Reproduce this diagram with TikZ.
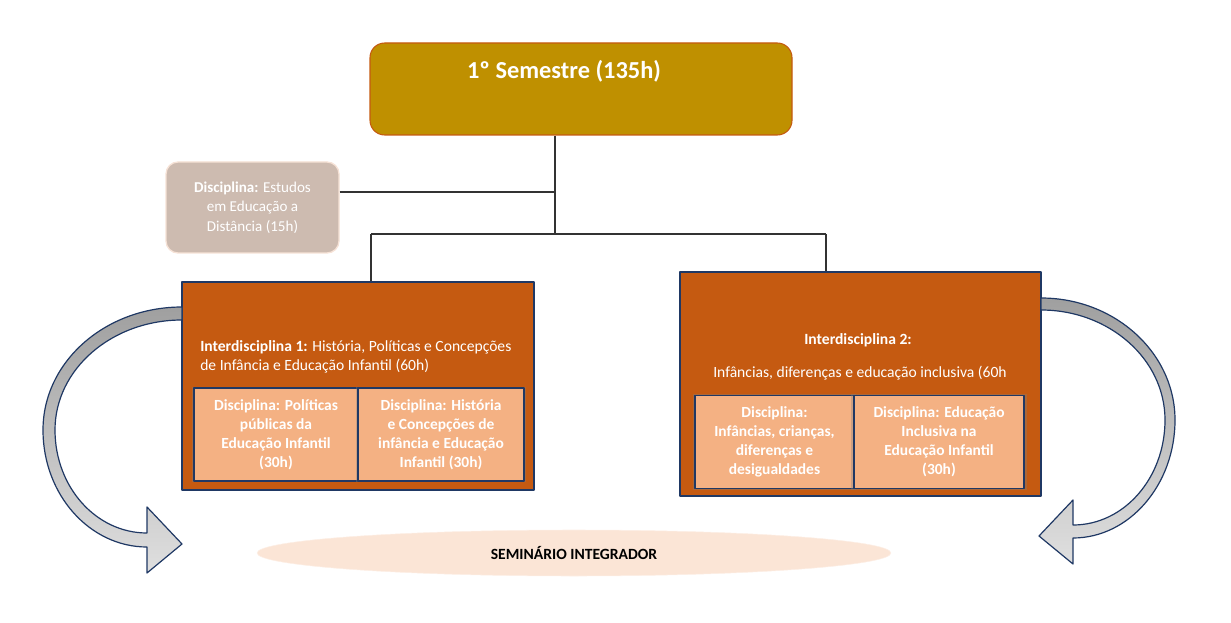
\documentclass[tikz,border=0pt]{standalone}
\usepackage{fontspec}
\setmainfont{Carlito}
\usetikzlibrary{shapes.geometric,shadows}
\definecolor{gold}{HTML}{BF9000}
\definecolor{rust}{HTML}{C55A11}
\definecolor{navy}{HTML}{1F3864}
\definecolor{peach}{HTML}{F4B183}
\definecolor{taupe}{HTML}{CDBBB0}
\definecolor{taupeline}{HTML}{F6E2D6}
\definecolor{blush}{HTML}{FBE5D6}
\begin{document}
\begin{tikzpicture}[x=0.75pt,y=-0.75pt, font=\fontsize{11.7}{14.25}\selectfont, line join=round,
 semestre/.style={draw=rust, fill=gold, line width=0.8pt, rounded corners=11pt, minimum width=316.5pt, minimum height=69pt},
 ead/.style={draw=taupeline, fill=taupe, line width=1pt, rounded corners=9pt, minimum width=129.75pt, minimum height=68.25pt, text=white, align=center, font=\fontsize{11.3}{14.5}\selectfont},
 inter/.style={draw=navy, fill=rust, line width=1.1pt},
 disc/.style={draw=navy, fill=peach, line width=1.1pt, drop shadow={opacity=0.35, shadow xshift=0pt, shadow yshift=0pt, shadow scale=1.03}, text=white, align=center, font=\bfseries\fontsize{11.6}{14.25}\selectfont, minimum height=69.5pt},
 loop/.style={draw=navy, line width=0.9pt, top color=gray!75, bottom color=gray!25}]
 \useasboundingbox (0,0) rectangle (1231,623);
 \node[semestre] (sem) at (581,89) {};
 \node[text=white, font=\bfseries\fontsize{18.3}{20}\selectfont] (semt) at (564,71) {1º Semestre (135h)};
 \node[ead] (ead) at (252.5,207.5) {\textbf{Disciplina:} Estudos\\em Educação a\\Distância (15h)};
 \node[inter, minimum width=264pt, minimum height=156pt] (int1) at (358,386) {};
 \node[inter, minimum width=270.75pt, minimum height=168pt] (int2) at (860.5,384) {};
 \node[text=white, anchor=west, align=left, inner sep=0pt] (int1t) at (200,356.5) {\textbf{Interdisciplina 1:} História, Políticas e Concepções\\de Infância e Educação Infantil (60h)};
 \node[text=white, font=\bfseries\fontsize{11.7}{14}\selectfont] (int2a) at (858,340) {Interdisciplina 2:};
 \node[text=white] (int2b) at (860,373) {Infâncias, diferenças e educação inclusiva (60h};
 \node[disc, minimum width=123pt] (d1) at (276,434.5) {Disciplina: Políticas\\públicas da\\Educação Infantil\\(30h)};
 \node[disc, minimum width=124.5pt] (d2) at (441,434.5) {Disciplina: História\\e Concepções de\\infância e Educação\\Infantil (30h)};
 \node[disc, minimum width=119.25pt] (d3) at (774.5,442) {Disciplina:\\Infâncias, crianças,\\diferenças e\\desigualdades};
 \node[disc, minimum width=127.5pt] (d4) at (939,442) {Disciplina: Educação\\Inclusiva na\\Educação Infantil\\(30h)};
 \node[ellipse, fill=blush, draw=blush!60, minimum width=475.5pt, minimum height=34.5pt, inner sep=0pt, font=\bfseries\fontsize{11.7}{13}\selectfont] (sem2) at (574,553) {SEMINÁRIO INTEGRADOR};
 \coordinate (j1) at (555,192);
 \coordinate (j2) at (555,234);
 \coordinate (b1) at (371,234);
 \coordinate (b2) at (826,234);
 \draw[black!80, line width=0.8pt] (sem.south -| j1) -- (j2) (j1 -| ead.east) -- (j1) (b1) -- (b2) (b1) -- (b1 |- int1.north) (b2) -- (b2 |- int2.north);
 \draw[loop] (182,307) .. controls (105,307) and (43,362) .. (43,430) .. controls (43,495) and (90,547) .. (147,547)
  -- (147,573) -- (182,544) -- (147,507) -- (147,533) .. controls (96,533) and (55,487) .. (55,430)
  .. controls (55,369) and (112,320) .. (182,320) -- cycle;
 \draw[loop] (1041,298) .. controls (1115,298) and (1175,353) .. (1175,420) .. controls (1175,485) and (1129,538) .. (1073,538)
  -- (1073,564) -- (1039,536) -- (1073,500) -- (1073,525) .. controls (1124,525) and (1165,478) .. (1165,420)
  .. controls (1165,359) and (1109,310) .. (1041,310) -- cycle;
\end{tikzpicture}
\end{document}
